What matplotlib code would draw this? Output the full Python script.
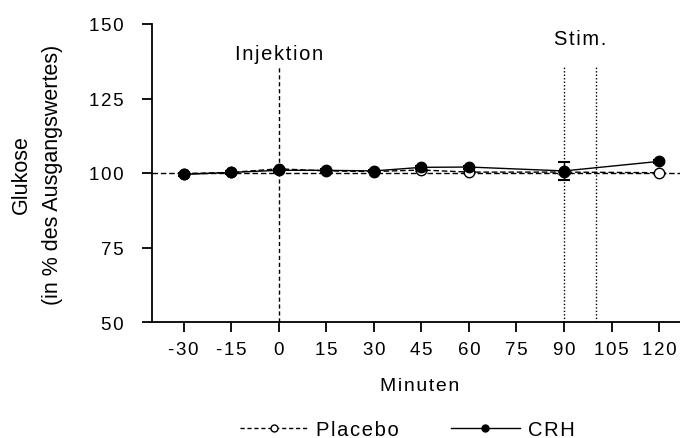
import numpy as np
import matplotlib.pyplot as plt
from matplotlib.lines import Line2D

plt.rcParams['font.family'] = ['Liberation Sans', 'DejaVu Sans']

minutes = [-30, -15, 0, 15, 30, 45, 60, 90, 120]
placebo = [99.8, 100.2, 101.4, 100.7, 100.5, 101.0, 100.3, 100.3, 100.1]
placebo_err = [0.3, 0.3, 0.4, 0.3, 0.3, 0.4, 0.3, 0.5, 0.4]
crh = [99.5, 100.2, 100.9, 100.9, 100.7, 101.9, 102.0, 100.7, 103.9]
crh_err = [0.4, 0.4, 0.5, 0.4, 0.4, 0.5, 0.5, 3.0, 0.6]

xticks = [-30, -15, 0, 15, 30, 45, 60, 75, 90, 105, 120]
yticks = [50, 75, 100, 125, 150]


def sp(s):
    # etwas Sperrung wie im Original
    return '\u200a'.join(s)


dash = (0, (4, 2))

fig = plt.figure(figsize=(6.8, 4.39), dpi=100)
ax = fig.add_axes([152/680, 1 - 323/439, 1 - 152/680, (323 - 25)/439])

ax.axhline(100, color='black', lw=1, ls=dash, zorder=1)
ax.vlines(0, 50, 135.5, color='black', lw=1, ls=(0, (3, 2)), zorder=1)
ax.vlines([90, 100], 50, 135.5, color='black', lw=1, ls=(0, (1, 1.5)), zorder=1)

ax.errorbar(minutes, placebo, yerr=placebo_err, color='black', lw=1,
            ls=dash, marker='o', ms=7.5, mfc='white', mec='black',
            mew=1, capsize=4, elinewidth=1, zorder=2)
ax.errorbar(minutes, crh, yerr=crh_err, color='black', lw=1, ls='-',
            marker='o', ms=7.5, mfc='black', mec='black', capsize=4,
            elinewidth=1, capthick=1.5, zorder=3)

ax.set_xlim(-40, 126.6)
ax.set_ylim(50, 150)
ax.set_xticks(xticks)
ax.set_xticklabels([sp(str(t)) for t in xticks])
ax.set_yticks(yticks)
ax.set_yticklabels([sp(str(t)) for t in yticks])
ax.tick_params(direction='out', length=7.5, width=1.3, labelsize=13.5)
ax.tick_params(axis='x', pad=6)
ax.tick_params(axis='y', pad=13)
for s in ['top', 'right']:
    ax.spines[s].set_visible(False)
for s in ['left', 'bottom']:
    ax.spines[s].set_linewidth(1.3)

ax.text(0, 140, sp('Injektion'), ha='center', va='center', fontsize=14.5)
ax.text(95, 145, sp('Stim.'), ha='center', va='center', fontsize=14.5)

fig.text(420/680, 1 - 387/439, sp('Minuten'), ha='center', va='center',
         fontsize=14)
fig.text(37/680, 1 - 175/439, 'Glukose\n(in % des Ausgangswertes)',
         rotation=90, ha='center', va='center', fontsize=15.5,
         multialignment='center', linespacing=1.6)

handles = [
    Line2D([], [], color='black', lw=1, ls=(0, (3, 2)), marker='o', ms=5,
           mfc='white', mec='black'),
    Line2D([], [], color='black', lw=1, ls='-', marker='o', ms=5,
           mfc='black', mec='black'),
]
fig.legend(handles, [sp('Placebo'), sp('CRH')], loc='center',
           bbox_to_anchor=(407/680, 1 - 431/439), ncol=2, frameon=False,
           fontsize=14.5, handlelength=3.4, handletextpad=0.4,
           columnspacing=2.6)

fig.savefig('out.png', dpi=100)
